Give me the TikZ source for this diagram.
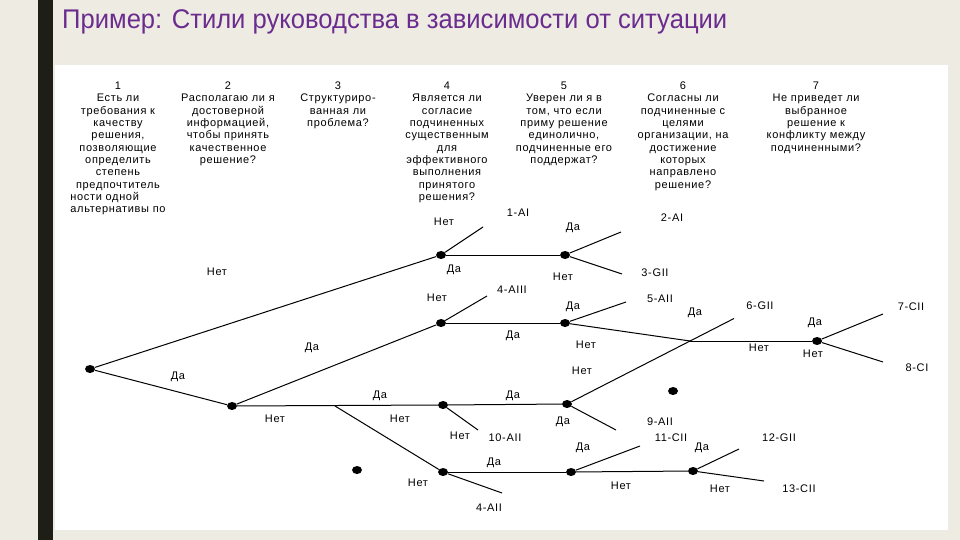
\documentclass[tikz,border=0pt]{standalone}
\usepackage{fontspec}
\usepackage{graphicx}
\setmainfont{Liberation Sans}
\newfontfamily\dfont[LetterSpace=6]{Liberation Sans}
\usetikzlibrary{shapes.geometric}
\definecolor{bgbeige}{HTML}{EEEBE3}
\definecolor{barblack}{HTML}{1E1E16}
\definecolor{titlepurple}{HTML}{6A2C8E}
\tikzset{
  dot/.style={ellipse, fill=black, minimum width=10pt, minimum height=8pt, inner sep=0pt},
  conn/.style={line width=1pt, black},
  lbl/.style={font=\dfont\fontsize{11}{12.3}\selectfont, inner sep=0pt, anchor=center},
  hdr/.style={font=\dfont\fontsize{11}{12.3}\selectfont, inner sep=0pt, anchor=base}
}
\begin{document}
\begin{tikzpicture}[x=1pt,y=-1pt]
\useasboundingbox (0,0) rectangle (960,540);
\fill[bgbeige] (0,0) rectangle (960,540);
\fill[barblack] (38,0) rectangle (53,540);
\fill[white] (55,65) rectangle (948,530);
\node[anchor=base west, inner sep=0pt, text=titlepurple] (title) at (62,29)
  {\resizebox{665pt}{\height}{\fontsize{27}{30}\selectfont Пример: Стили руководства в зависимости от ситуации}};

% headers
\node[hdr] (q1) at (118,89.7) {\begin{tabular}[t]{@{}c@{}}1\\Есть ли\\требования к\\качеству\\решения,\\позволяющие\\определить\\степень\\предпочтитель\\\multicolumn{1}{@{}l@{}}{ности одной}\\\multicolumn{1}{@{}l@{}}{альтернативы по}\end{tabular}};
\node[hdr] (q2) at (228,89.7) {\begin{tabular}[t]{@{}c@{}}2\\Располагаю ли я\\достоверной\\информацией,\\чтобы принять\\качественное\\решение?\end{tabular}};
\node[hdr] (q3) at (338,89.7) {\begin{tabular}[t]{@{}c@{}}3\\Структуриро-\\ванная ли\\проблема?\end{tabular}};
\node[hdr] (q4) at (447,89.7) {\begin{tabular}[t]{@{}c@{}}4\\Является ли\\согласие\\подчиненных\\существенным\\для\\эффективного\\выполнения\\принятого\\решения?\end{tabular}};
\node[hdr] (q5) at (564,89.7) {\begin{tabular}[t]{@{}c@{}}5\\Уверен ли я в\\том, что если\\приму решение\\единолично,\\подчиненные его\\поддержат?\end{tabular}};
\node[hdr] (q6) at (683,89.7) {\begin{tabular}[t]{@{}c@{}}6\\Согласны ли\\подчиненные с\\целями\\организации, на\\достижение\\которых\\направлено\\решение?\end{tabular}};
\node[hdr] (q7) at (816,89.7) {\begin{tabular}[t]{@{}c@{}}7\\Не приведет ли\\выбранное\\решение к\\конфликту между\\подчиненными?\end{tabular}};

% decision points
\node[dot] (A) at (90,369) {};
\node[dot] (B) at (232,406) {};
\node[dot] (C) at (441,255) {};
\node[dot] (E) at (565,255) {};
\node[dot] (D) at (441,323) {};
\node[dot] (F) at (565,323) {};
\node[dot] (H) at (817,341) {};
\node[dot] (J) at (443,405) {};
\node[dot] (I) at (567,404) {};
\node[dot] (K) at (443,472) {};
\node[dot] (M) at (571,472) {};
\node[dot] (N) at (693,471) {};
\node[dot] (X1) at (673,391) {};
\node[dot] (X2) at (357,470) {};

% free ends
\coordinate (c1) at (483,227);
\coordinate (e1) at (621,232);
\coordinate (e2) at (622,274);
\coordinate (d1) at (487,296);
\coordinate (f1) at (626,302);
\coordinate (G) at (690,341);
\coordinate (h1) at (883,314);
\coordinate (h2) at (883,362);
\coordinate (P) at (335,406);
\coordinate (j1) at (478,430);
\coordinate (i1) at (734,318.5);
\coordinate (i2) at (616,430);
\coordinate (k1) at (502,493);
\coordinate (m1) at (640,446);
\coordinate (n1) at (739,449);
\coordinate (n2) at (764,481);

% connectors
\draw[conn] (A) -- (C);
\draw[conn] (A) -- (B);
\draw[conn] (C) -- (c1);
\draw[conn] (C) -- (E);
\draw[conn] (E) -- (e1);
\draw[conn] (E) -- (e2);
\draw[conn] (B) -- (D);
\draw[conn] (D) -- (d1);
\draw[conn] (D) -- (F);
\draw[conn] (F) -- (f1);
\draw[conn] (F) -- (G);
\draw[conn] (G) -- (H);
\draw[conn] (H) -- (h1);
\draw[conn] (H) -- (h2);
\draw[conn] (B) -- (J);
\draw[conn] (P) -- (K);
\draw[conn] (J) -- (I);
\draw[conn] (J) -- (j1);
\draw[conn] (I) -- (i1);
\draw[conn] (I) -- (i2);
\draw[conn] (K) -- (M);
\draw[conn] (K) -- (k1);
\draw[conn] (M) -- (m1);
\draw[conn] (M) -- (N);
\draw[conn] (N) -- (n1);
\draw[conn] (N) -- (n2);

% labels
\node[lbl] (t01) at (217,272) {Нет};
\node[lbl] (t02) at (444,222) {Нет};
\node[lbl] (t03) at (518,213) {1-AI};
\node[lbl] (t04) at (573,228) {Да};
\node[lbl] (t05) at (672,218) {2-AI};
\node[lbl] (t06) at (454,270) {Да};
\node[lbl] (t07) at (563,277) {Нет};
\node[lbl] (t08) at (655,273) {3-GII};
\node[lbl] (t09) at (437,298) {Нет};
\node[lbl] (t10) at (512,290) {4-AIII};
\node[lbl] (t11) at (573,307) {Да};
\node[lbl] (t12) at (660,299) {5-AII};
\node[lbl] (t13) at (695,313) {Да};
\node[lbl] (t14) at (760,306) {6-GII};
\node[lbl] (t15) at (911,307) {7-CII};
\node[lbl] (t16) at (815,323) {Да};
\node[lbl] (t17) at (513,336) {Да};
\node[lbl] (t18) at (586,345) {Нет};
\node[lbl] (t19) at (312,348) {Да};
\node[lbl] (t20) at (759,348) {Нет};
\node[lbl] (t21) at (813,354) {Нет};
\node[lbl] (t22) at (917,368) {8-CI};
\node[lbl] (t23) at (582,371) {Нет};
\node[lbl] (t24) at (178,377) {Да};
\node[lbl] (t25) at (380,396) {Да};
\node[lbl] (t26) at (513,396) {Да};
\node[lbl] (t27) at (275,419) {Нет};
\node[lbl] (t28) at (400,419) {Нет};
\node[lbl] (t29) at (563,422) {Да};
\node[lbl] (t30) at (660,422) {9-AII};
\node[lbl] (t31) at (460,436) {Нет};
\node[lbl] (t32) at (505,438) {10-AII};
\node[lbl] (t33) at (671,438) {11-CII};
\node[lbl] (t34) at (583,448) {Да};
\node[lbl] (t35) at (702,448) {Да};
\node[lbl] (t36) at (779,438) {12-GII};
\node[lbl] (t37) at (494,463) {Да};
\node[lbl] (t38) at (418,483) {Нет};
\node[lbl] (t39) at (621,486) {Нет};
\node[lbl] (t40) at (720,489) {Нет};
\node[lbl] (t41) at (799,489) {13-CII};
\node[lbl] (t42) at (489,508) {4-AII};
\end{tikzpicture}
\end{document}
